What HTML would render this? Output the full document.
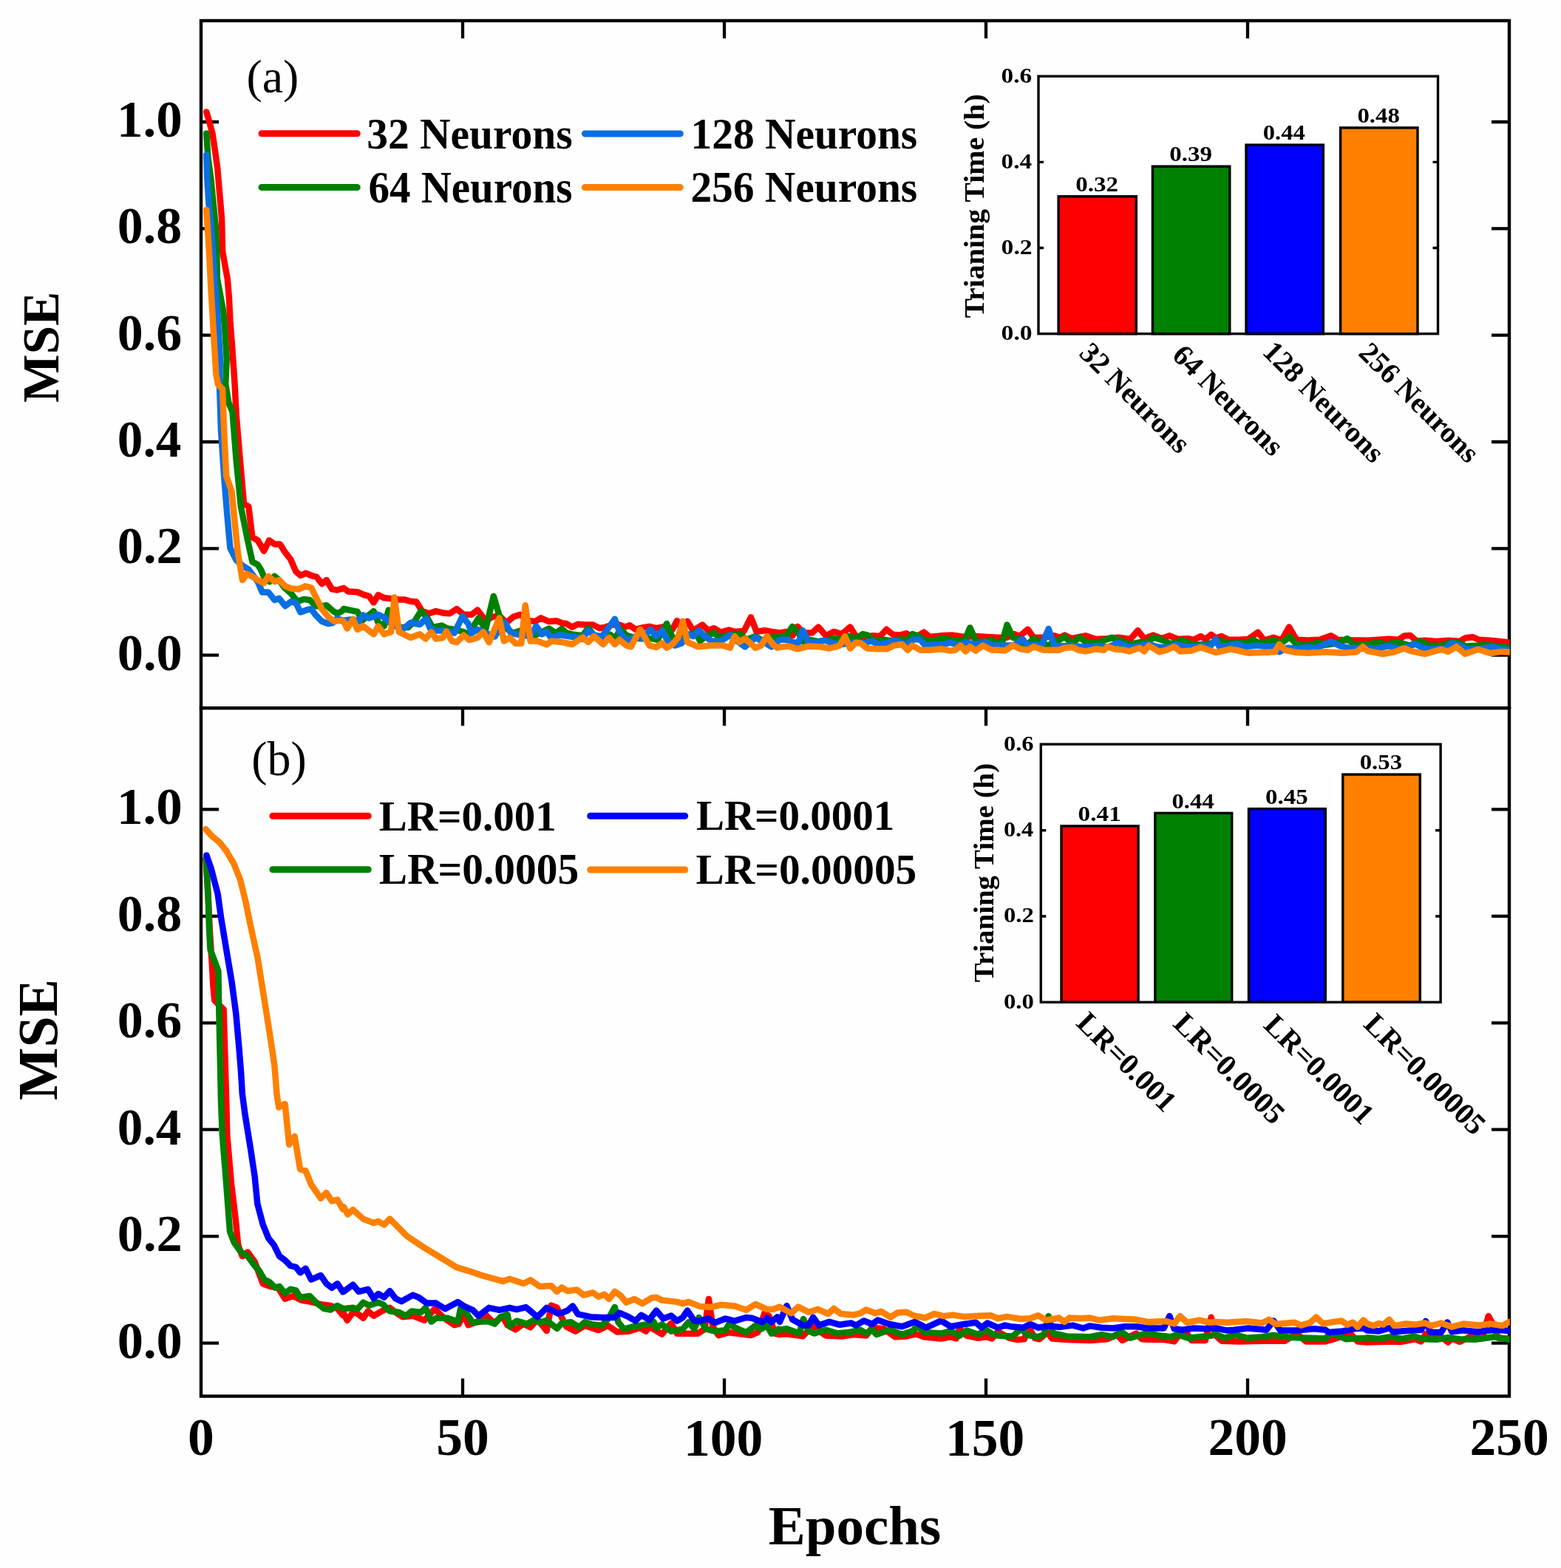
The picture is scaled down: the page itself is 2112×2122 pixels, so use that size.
<!DOCTYPE html><html><head><meta charset="utf-8"><title>MSE vs Epochs</title><style>html,body{margin:0;padding:0;background:#fefefe;}svg{display:block}</style></head><body>
<svg width="2112" height="2122" viewBox="0 0 2112 2122">
<rect x="0" y="0" width="2112" height="2122" fill="#fefefe"/>
<g stroke="#000" stroke-width="4.4" fill="none" stroke-linecap="square">
<rect x="272" y="28" width="1770" height="1861.5"/>
<line x1="272" y1="958.3" x2="2042" y2="958.3"/>
</g>
<path d="M272 886.6H296M2042 886.6H2018M272 1817.6H296M2042 1817.6H2018M272 742.3H296M2042 742.3H2018M272 1673.2H296M2042 1673.2H2018M272 598.0H296M2042 598.0H2018M272 1528.7H296M2042 1528.7H2018M272 453.6H296M2042 453.6H2018M272 1384.3H296M2042 1384.3H2018M272 309.3H296M2042 309.3H2018M272 1239.8H296M2042 1239.8H2018M272 165.0H296M2042 165.0H2018M272 1095.4H296M2042 1095.4H2018M626.0 28V52M626.0 958.3V982.3M626.0 1889.5V1865.5M980.0 28V52M980.0 958.3V982.3M980.0 1889.5V1865.5M1334.0 28V52M1334.0 958.3V982.3M1334.0 1889.5V1865.5M1688.0 28V52M1688.0 958.3V982.3M1688.0 1889.5V1865.5" stroke="#000" stroke-width="4.3" fill="none"/>
<defs><clipPath id="pc"><rect x="250" y="30" width="1792.8" height="1858"/></clipPath></defs>
<g clip-path="url(#pc)"><path d="M279.3 151.4 L283.5 165.9 L287.6 181.4 L290.7 202.1 L294.3 228.0 L296.9 259.0 L300.0 295.3 L301.1 340.4 L307.8 377.6 L309.9 402.5 L311.4 433.5 L314.5 474.9 L317.6 520.0 L319.7 561.4 L324.9 623.5 L330.0 681.5 L336.3 685.6 L341.4 727.0 L348.7 731.2 L357.0 745.7 L364.2 731.2 L371.4 736.4 L378.7 736.4 L385.9 747.7 L393.2 757.0 L400.4 773.6 L406.6 778.8 L413.9 775.7 L421.1 778.8 L428.4 780.9 L435.6 790.2 L441.8 785.0 L449.1 797.4 L456.3 798.5 L463.6 796.4 L465.0 795.9 L471.2 800.6 L483.7 801.3 L493.1 805.2 L499.3 806.8 L505.6 815.4 L511.8 805.2 L519.6 809.1 L527.4 809.9 L539.9 811.5 L547.7 811.5 L555.5 813.8 L563.3 814.6 L571.1 827.1 L580.4 830.2 L589.8 827.1 L599.2 829.4 L608.5 830.2 L617.9 824.0 L627.3 831.8 L638.2 831.8 L646.0 825.5 L656.9 839.6 L666.2 834.9 L675.6 833.3 L685.0 842.7 L694.3 834.9 L703.7 831.8 L714.6 839.6 L724.0 841.1 L731.8 836.4 L742.7 841.1 L753.6 840.3 L760.0 843.2 L766.2 844.0 L774.0 848.6 L781.8 844.7 L791.2 845.5 L802.1 845.5 L811.5 850.2 L819.3 848.6 L828.6 845.5 L838.0 845.5 L845.8 848.6 L852.0 846.3 L859.8 851.8 L869.2 849.4 L878.6 847.9 L887.9 850.2 L895.7 848.6 L902.0 853.3 L909.8 851.8 L916.0 840.1 L922.3 850.2 L930.0 840.8 L937.8 853.3 L950.3 845.5 L958.1 853.3 L965.9 850.2 L975.3 855.7 L986.2 852.5 L994.0 854.9 L1006.5 854.1 L1015.9 835.4 L1023.6 854.9 L1034.6 853.3 L1043.9 854.9 L1055.0 856.4 L1064.4 854.9 L1072.2 860.3 L1079.2 847.9 L1086.2 856.4 L1098.7 856.4 L1107.3 848.6 L1117.4 860.3 L1128.3 854.9 L1139.2 858.0 L1150.2 848.6 L1158.0 861.1 L1167.3 862.7 L1179.8 860.3 L1190.7 861.1 L1199.3 851.8 L1207.9 858.8 L1217.3 859.6 L1226.6 857.2 L1236.0 864.2 L1250.0 855.7 L1257.8 861.9 L1273.4 860.3 L1289.0 859.6 L1304.6 861.9 L1320.2 861.1 L1335.8 861.9 L1350.0 862.7 L1362.5 862.7 L1371.8 858.0 L1379.6 861.1 L1390.6 851.8 L1398.4 862.7 L1412.4 862.7 L1426.4 860.3 L1434.2 862.7 L1440.5 859.6 L1449.8 864.2 L1468.6 860.3 L1482.6 865.0 L1498.2 864.2 L1513.8 862.7 L1529.4 865.0 L1539.5 853.3 L1548.1 864.2 L1560.6 859.6 L1571.5 864.2 L1582.4 860.3 L1593.4 865.0 L1607.4 864.2 L1615.2 865.8 L1624.6 861.1 L1630.8 865.0 L1638.6 858.8 L1645.0 863.5 L1652.8 861.1 L1662.2 865.8 L1676.2 865.8 L1688.7 865.0 L1701.9 855.7 L1710.5 866.6 L1723.0 862.7 L1733.9 866.6 L1744.1 848.6 L1754.2 865.8 L1769.8 866.6 L1785.4 865.8 L1801.0 860.3 L1810.4 865.8 L1824.4 866.6 L1840.0 866.6 L1850.0 866.8 L1865.6 865.8 L1879.1 864.8 L1891.6 865.8 L1899.9 860.6 L1908.2 860.1 L1916.6 867.4 L1929.0 866.8 L1943.6 867.9 L1959.2 866.8 L1974.8 867.9 L1983.1 863.2 L1992.5 862.2 L2000.8 865.8 L2016.4 866.8 L2042.0 869.4" fill="none" stroke="#ff0000" stroke-width="8.5" stroke-linejoin="round" stroke-linecap="round"/>
<path d="M279.3 180.4 L281.4 212.5 L285.5 243.5 L288.6 274.6 L291.7 305.6 L293.3 340.0 L293.8 376.6 L302.1 421.1 L304.2 443.9 L306.7 485.3 L305.2 520.0 L309.3 544.8 L314.5 557.3 L319.7 623.5 L325.9 685.6 L334.2 727.0 L341.4 760.2 L348.7 764.3 L352.8 770.5 L359.0 785.0 L365.2 787.1 L371.4 779.8 L377.6 785.0 L384.9 795.4 L394.2 803.7 L402.5 814.0 L410.8 810.9 L419.1 812.0 L427.4 820.2 L435.6 820.2 L441.8 819.2 L450.1 826.4 L456.3 830.6 L463.6 826.4 L465.0 824.0 L483.7 827.9 L490.0 839.6 L505.6 827.1 L511.8 842.7 L519.6 847.4 L525.8 825.5 L530.0 844.0 L538.3 848.9 L552.4 848.9 L561.7 839.6 L569.5 827.1 L577.3 834.9 L585.1 848.9 L597.6 846.6 L605.4 850.5 L614.8 852.0 L627.3 855.2 L633.5 858.3 L639.7 848.9 L647.5 836.4 L656.9 852.0 L667.8 806.8 L675.6 833.3 L685.0 850.5 L694.3 856.7 L703.7 853.6 L714.6 856.7 L724.0 859.8 L733.3 855.2 L742.7 850.5 L752.0 856.7 L760.0 851.0 L766.2 856.4 L775.6 858.8 L788.1 860.3 L795.9 850.2 L803.7 859.6 L814.6 862.7 L825.5 858.8 L831.8 864.2 L839.6 851.8 L847.4 859.6 L856.7 862.7 L866.1 864.2 L881.7 864.2 L889.5 865.8 L902.0 844.0 L909.8 862.7 L916.0 864.2 L925.4 862.7 L934.7 858.0 L941.0 856.4 L947.2 867.4 L955.0 861.1 L965.9 856.4 L973.7 862.7 L986.2 859.6 L1001.8 858.0 L1009.6 865.8 L1022.1 861.1 L1034.6 868.9 L1043.9 862.7 L1055.0 861.1 L1062.8 861.9 L1072.2 847.9 L1080.0 856.4 L1087.8 868.9 L1095.6 865.8 L1106.5 868.1 L1117.4 866.6 L1128.3 864.2 L1139.2 865.0 L1148.6 861.1 L1158.0 864.2 L1167.3 858.0 L1173.6 859.6 L1182.9 867.4 L1195.4 865.8 L1207.9 867.4 L1220.4 865.0 L1226.6 867.4 L1234.4 858.0 L1243.8 861.1 L1251.6 866.6 L1262.5 867.4 L1276.5 863.5 L1289.0 866.6 L1304.6 868.1 L1312.4 849.4 L1320.2 867.4 L1329.6 868.9 L1342.0 866.6 L1350.0 869.7 L1356.2 868.9 L1362.5 845.5 L1370.3 862.7 L1378.1 865.0 L1384.3 873.6 L1390.6 872.0 L1398.4 864.2 L1409.3 870.5 L1418.6 873.6 L1423.3 870.5 L1431.1 867.4 L1440.5 861.9 L1449.8 870.5 L1460.8 862.7 L1471.7 870.5 L1487.3 868.9 L1504.4 862.7 L1515.4 866.6 L1529.4 872.0 L1543.5 868.9 L1552.8 868.9 L1560.6 862.7 L1571.5 865.8 L1584.0 871.3 L1599.6 866.6 L1615.2 872.8 L1630.8 872.0 L1643.3 869.7 L1645.0 868.9 L1652.8 867.4 L1662.2 870.5 L1679.3 869.7 L1687.1 870.5 L1694.9 865.8 L1704.3 870.5 L1723.0 866.6 L1733.9 870.5 L1744.8 861.9 L1754.2 872.0 L1769.8 872.8 L1785.4 869.7 L1793.2 872.8 L1808.8 870.5 L1822.9 864.2 L1832.2 872.8 L1847.8 872.0 L1850.0 872.0 L1865.6 869.4 L1876.0 872.6 L1886.4 869.4 L1896.8 870.5 L1907.2 873.6 L1921.8 867.4 L1933.2 873.6 L1948.8 874.1 L1964.4 868.9 L1974.8 870.5 L1983.1 874.6 L1995.6 874.1 L2006.0 872.6 L2026.8 874.6 L2042.0 876.2" fill="none" stroke="#008000" stroke-width="8.5" stroke-linejoin="round" stroke-linecap="round"/>
<path d="M279.3 209.4 L280.4 243.5 L282.4 274.6 L285.5 305.6 L288.1 340.0 L290.7 381.8 L294.8 433.5 L297.9 485.3 L296.9 520.0 L299.0 582.1 L303.1 644.2 L307.3 696.0 L311.4 741.5 L319.7 758.1 L328.0 765.3 L336.3 770.5 L342.5 778.8 L348.7 787.1 L354.9 801.6 L363.2 801.6 L371.4 811.9 L377.7 809.9 L385.9 820.2 L394.2 814.0 L400.4 816.1 L406.6 828.5 L414.9 825.4 L421.1 824.3 L427.3 832.6 L435.6 840.9 L443.9 844.0 L450.1 843.0 L456.3 836.8 L463.6 839.9 L465.0 839.6 L477.5 838.0 L485.3 841.1 L491.5 832.5 L499.3 836.4 L511.8 831.8 L521.2 836.4 L527.4 842.7 L535.2 847.4 L546.1 850.5 L555.5 842.7 L568.0 845.0 L576.5 837.2 L582.0 850.5 L589.8 853.6 L600.7 853.6 L614.8 856.7 L625.7 834.1 L633.5 844.2 L638.2 856.7 L646.0 852.0 L656.9 856.7 L669.4 861.4 L675.6 852.0 L683.4 842.7 L691.2 856.7 L699.0 858.3 L708.4 859.8 L717.7 861.4 L725.5 847.4 L733.3 858.3 L739.6 855.2 L745.8 863.0 L755.2 859.8 L760.0 859.6 L769.4 861.1 L780.3 862.7 L788.1 865.0 L795.9 853.3 L803.7 859.6 L814.6 861.1 L824.0 848.6 L831.8 837.7 L838.0 854.9 L844.2 862.7 L852.0 866.6 L859.8 861.1 L869.2 864.2 L880.1 851.8 L887.9 861.1 L895.7 853.3 L903.5 867.4 L912.9 873.6 L922.3 870.5 L930.0 858.0 L937.8 861.1 L945.6 853.3 L953.4 861.1 L962.8 867.4 L975.3 867.4 L987.8 859.6 L997.1 867.4 L1008.0 875.2 L1022.1 862.7 L1033.0 868.9 L1043.9 875.2 L1055.0 865.8 L1064.4 865.8 L1072.2 868.9 L1080.0 870.5 L1086.2 853.3 L1094.0 868.9 L1104.9 868.9 L1115.8 866.6 L1126.8 870.5 L1139.2 872.0 L1148.6 870.5 L1161.1 868.9 L1170.4 870.5 L1178.2 867.4 L1189.2 872.0 L1201.6 869.7 L1211.0 866.6 L1220.4 870.5 L1228.2 872.0 L1236.0 865.0 L1245.3 865.8 L1251.6 873.6 L1264.1 872.0 L1273.4 872.8 L1285.9 869.7 L1295.2 872.8 L1307.7 869.7 L1320.2 872.0 L1332.7 868.9 L1343.6 873.6 L1350.0 873.6 L1362.5 873.6 L1371.8 873.6 L1383.5 865.0 L1390.6 873.6 L1401.5 872.8 L1409.3 873.6 L1418.6 851.0 L1426.4 873.6 L1437.4 874.4 L1449.8 873.6 L1463.9 875.2 L1474.8 875.2 L1487.3 873.6 L1499.8 875.9 L1512.2 869.7 L1521.6 873.6 L1531.0 875.9 L1543.5 873.6 L1552.8 871.3 L1565.3 875.2 L1577.8 876.7 L1591.8 872.0 L1602.7 875.2 L1615.2 875.2 L1627.7 873.6 L1637.0 875.2 L1644.8 865.0 L1649.7 875.2 L1660.6 874.4 L1673.1 871.3 L1685.6 875.2 L1701.2 873.6 L1715.2 875.2 L1723.0 874.4 L1730.8 882.2 L1741.7 876.7 L1754.2 877.5 L1766.7 875.9 L1782.3 876.7 L1801.0 868.1 L1813.5 874.4 L1824.4 876.7 L1843.1 877.5 L1850.0 876.7 L1860.4 878.3 L1879.1 874.1 L1891.6 877.8 L1899.9 877.2 L1914.5 871.5 L1929.0 878.3 L1943.6 878.3 L1954.0 877.8 L1964.4 870.5 L1974.8 873.6 L1985.2 878.8 L2000.8 878.3 L2020.6 875.2 L2032.0 879.3 L2042.0 879.3" fill="none" stroke="#0a6fe3" stroke-width="8.5" stroke-linejoin="round" stroke-linecap="round"/>
<path d="M279.3 283.9 L281.4 316.0 L282.9 340.0 L285.5 392.1 L289.2 454.2 L292.3 506.0 L294.8 520.0 L301.1 526.2 L303.1 582.1 L306.2 644.2 L313.5 664.9 L317.6 706.3 L321.8 747.7 L328.0 785.0 L334.2 776.7 L342.5 780.9 L348.7 785.0 L357.0 789.1 L363.2 779.8 L371.4 787.1 L377.7 785.0 L385.9 793.3 L394.2 796.4 L404.6 797.4 L412.9 793.3 L421.1 795.4 L427.3 807.8 L435.6 824.3 L443.9 834.7 L452.2 840.9 L460.5 839.9 L465.0 841.1 L469.7 850.5 L477.5 838.0 L483.7 852.0 L491.5 847.4 L505.6 858.3 L511.8 847.4 L519.6 858.3 L529.0 855.2 L533.6 808.4 L539.9 855.2 L555.5 863.0 L568.0 858.3 L575.8 864.5 L583.6 855.2 L589.8 864.5 L599.2 863.0 L603.8 854.4 L611.6 867.6 L617.9 869.2 L627.3 859.8 L635.0 866.1 L646.0 863.0 L653.8 855.2 L661.6 869.2 L675.6 836.4 L681.9 867.6 L689.6 863.0 L697.4 870.8 L705.3 870.8 L710.7 819.3 L717.7 867.6 L727.1 867.6 L739.6 872.3 L745.8 867.6 L760.0 868.9 L774.0 872.0 L788.1 862.7 L795.9 868.9 L803.7 861.1 L816.2 872.0 L824.0 862.7 L831.8 872.0 L838.0 865.8 L847.4 873.6 L853.6 875.2 L866.1 851.8 L878.6 873.6 L887.9 875.9 L895.7 870.5 L902.0 876.7 L909.8 872.0 L917.6 862.7 L923.8 840.8 L930.0 868.9 L944.1 875.2 L962.8 873.6 L978.4 873.6 L987.8 876.7 L994.0 861.1 L1000.2 868.9 L1008.0 864.2 L1022.1 876.7 L1029.9 873.6 L1037.7 861.1 L1045.5 872.0 L1051.7 876.7 L1055.0 875.9 L1067.5 874.4 L1078.4 878.3 L1094.0 874.4 L1109.6 875.2 L1122.1 877.5 L1136.1 873.6 L1143.1 861.1 L1150.2 877.5 L1158.0 869.7 L1164.2 870.5 L1173.6 877.5 L1187.6 878.3 L1200.1 878.3 L1209.4 873.6 L1220.4 872.0 L1228.2 879.8 L1234.4 873.6 L1245.3 879.8 L1257.8 879.8 L1273.4 878.3 L1285.9 880.6 L1292.1 879.8 L1299.9 873.6 L1306.2 881.4 L1312.4 875.2 L1320.2 880.6 L1329.6 873.6 L1342.0 879.8 L1350.0 879.8 L1359.4 880.6 L1370.3 873.6 L1381.2 878.3 L1390.6 879.8 L1398.4 875.2 L1412.4 879.8 L1432.7 879.8 L1440.5 876.7 L1451.4 875.9 L1459.2 879.8 L1468.6 881.4 L1482.6 878.3 L1493.5 879.8 L1498.2 875.2 L1507.6 878.3 L1521.6 879.8 L1527.8 881.4 L1541.9 876.7 L1548.1 881.4 L1554.4 873.6 L1568.4 882.2 L1577.8 879.8 L1588.7 875.2 L1596.5 881.4 L1612.1 880.6 L1624.6 875.9 L1635.5 879.8 L1645.0 883.0 L1665.3 878.3 L1688.7 883.7 L1707.4 883.0 L1724.6 882.2 L1730.8 872.0 L1738.6 879.8 L1754.2 883.0 L1769.8 883.7 L1793.2 882.2 L1816.6 883.7 L1835.3 882.2 L1843.9 875.2 L1850.0 880.9 L1870.8 885.0 L1886.4 882.4 L1899.9 877.2 L1908.2 880.9 L1928.0 885.0 L1949.8 878.8 L1959.2 881.9 L1970.6 875.2 L1982.1 885.0 L1999.8 878.8 L2016.4 884.0 L2032.0 881.9 L2042.0 882.4" fill="none" stroke="#ff8000" stroke-width="8.5" stroke-linejoin="round" stroke-linecap="round"/>
<path d="M278.7 1162.0 L281.6 1212.0 L284.0 1262.0 L286.5 1300.0 L288.5 1335.0 L290.3 1354.0 L302.6 1366.0 L304.2 1421.3 L306.2 1490.0 L307.3 1535.9 L312.9 1601.2 L318.5 1647.8 L322.2 1685.0 L327.8 1700.0 L335.2 1694.4 L344.6 1707.4 L355.7 1737.2 L365.1 1740.9 L376.2 1742.8 L385.6 1757.7 L396.7 1754.0 L407.9 1759.6 L419.1 1761.5 L434.0 1765.2 L447.1 1767.0 L456.4 1770.8 L463.9 1780.1 L465.0 1777.6 L469.7 1786.9 L477.5 1776.0 L483.7 1777.6 L491.5 1783.8 L497.8 1774.4 L505.6 1780.7 L516.5 1774.4 L527.4 1769.8 L535.2 1776.0 L544.6 1782.2 L558.6 1780.7 L574.2 1786.9 L588.2 1771.3 L600.7 1783.8 L614.8 1793.2 L621.0 1791.6 L627.3 1777.6 L633.5 1793.2 L646.0 1788.5 L656.9 1779.1 L667.8 1790.0 L680.3 1782.2 L686.5 1793.2 L697.4 1799.4 L708.4 1791.6 L717.7 1796.3 L727.1 1785.4 L739.6 1801.0 L745.8 1766.6 L753.6 1769.8 L760.0 1783.0 L766.2 1795.4 L778.7 1801.7 L791.2 1793.9 L809.9 1800.1 L822.4 1793.9 L834.9 1802.5 L850.5 1801.7 L866.1 1797.0 L873.9 1801.7 L878.6 1795.4 L895.7 1805.6 L908.2 1790.8 L916.0 1804.8 L930.0 1804.8 L944.1 1804.8 L953.4 1798.6 L958.9 1758.0 L964.4 1795.4 L972.2 1807.1 L986.2 1803.2 L998.7 1804.8 L1015.9 1807.1 L1025.2 1803.2 L1034.6 1776.7 L1040.8 1781.4 L1048.6 1804.8 L1055.0 1806.1 L1064.4 1805.3 L1086.2 1808.4 L1100.2 1793.6 L1106.5 1799.8 L1117.4 1807.6 L1140.8 1808.4 L1154.8 1806.1 L1172.0 1807.6 L1179.8 1796.7 L1195.4 1798.3 L1211.0 1809.2 L1226.6 1808.4 L1239.1 1805.3 L1250.0 1809.2 L1273.4 1811.5 L1285.9 1809.2 L1293.7 1811.5 L1298.4 1798.3 L1307.7 1807.6 L1323.3 1810.8 L1334.3 1809.2 L1342.0 1811.5 L1350.0 1802.2 L1365.6 1810.8 L1376.5 1813.1 L1385.9 1812.3 L1392.1 1795.9 L1399.9 1810.8 L1406.2 1812.3 L1417.1 1803.0 L1423.3 1811.5 L1443.6 1813.1 L1474.8 1813.9 L1498.2 1812.3 L1510.7 1806.1 L1518.5 1813.9 L1537.2 1804.5 L1545.0 1812.3 L1560.6 1813.1 L1576.2 1813.1 L1588.7 1815.4 L1594.9 1806.9 L1602.7 1799.8 L1612.1 1813.9 L1630.8 1813.9 L1638.6 1782.7 L1645.0 1807.6 L1652.8 1814.7 L1676.2 1815.4 L1707.4 1814.7 L1738.6 1814.7 L1754.2 1804.5 L1766.7 1815.4 L1793.2 1815.4 L1808.8 1810.8 L1826.0 1803.7 L1836.9 1815.4 L1850.0 1816.5 L1865.6 1816.0 L1881.2 1815.4 L1894.7 1816.0 L1914.5 1812.3 L1922.8 1815.4 L1929.0 1805.0 L1936.3 1807.1 L1948.8 1808.2 L1959.2 1816.5 L1964.4 1811.3 L1974.8 1816.0 L1990.4 1808.2 L2006.0 1808.2 L2013.8 1781.1 L2018.5 1789.4 L2026.8 1810.5 L2042.0 1812.0" fill="none" stroke="#ff0000" stroke-width="8.5" stroke-linejoin="round" stroke-linecap="round"/>
<path d="M278.7 1161.7 L281.6 1212.5 L283.0 1256.0 L284.5 1285.0 L295.4 1314.0 L296.1 1357.4 L297.5 1420.0 L299.0 1490.0 L300.8 1535.9 L305.4 1591.8 L311.0 1666.4 L316.6 1681.3 L325.9 1694.4 L335.2 1700.0 L344.6 1713.0 L350.1 1718.7 L357.6 1731.6 L365.1 1735.4 L372.5 1742.8 L378.1 1740.9 L385.6 1750.3 L393.0 1744.7 L400.5 1746.5 L406.1 1755.9 L419.1 1754.0 L428.4 1763.3 L437.8 1770.8 L447.1 1772.6 L456.4 1767.0 L463.9 1770.8 L465.0 1771.3 L477.5 1769.8 L483.7 1771.3 L491.5 1762.7 L499.3 1766.6 L511.8 1762.7 L518.0 1765.1 L527.4 1774.4 L539.9 1776.0 L549.2 1780.7 L557.0 1774.4 L569.5 1776.0 L575.8 1769.8 L583.6 1788.5 L589.8 1783.8 L605.4 1783.8 L619.5 1788.5 L624.1 1766.6 L630.4 1776.0 L639.7 1790.0 L652.2 1788.5 L661.6 1788.5 L669.4 1791.6 L677.2 1782.2 L686.5 1779.1 L689.6 1794.7 L699.0 1787.7 L713.0 1791.6 L724.0 1785.4 L730.2 1790.0 L739.6 1786.9 L753.6 1797.8 L760.0 1790.8 L772.5 1789.2 L783.4 1796.2 L791.2 1789.2 L800.6 1792.3 L814.6 1793.9 L824.0 1783.0 L831.8 1768.9 L836.4 1789.2 L844.2 1798.6 L856.7 1795.4 L875.4 1792.3 L884.8 1789.2 L887.9 1797.0 L895.7 1792.3 L908.2 1801.7 L923.8 1798.6 L931.6 1789.2 L939.4 1798.6 L945.6 1783.0 L955.0 1798.6 L967.5 1801.7 L981.5 1800.1 L986.2 1792.3 L998.7 1798.6 L1009.6 1803.2 L1022.1 1793.9 L1029.9 1798.6 L1037.7 1793.9 L1043.9 1804.8 L1053.3 1798.6 L1055.0 1799.8 L1064.4 1798.3 L1081.5 1804.5 L1087.0 1785.0 L1094.0 1801.4 L1101.8 1804.5 L1117.4 1799.8 L1133.0 1804.5 L1148.6 1803.0 L1164.2 1799.8 L1172.0 1804.5 L1179.8 1799.8 L1186.0 1806.1 L1203.2 1799.8 L1220.4 1806.1 L1234.4 1801.4 L1241.4 1794.4 L1250.0 1803.0 L1273.4 1804.5 L1285.9 1801.4 L1298.4 1807.6 L1307.7 1800.6 L1323.3 1806.1 L1334.3 1799.8 L1343.6 1806.1 L1350.0 1807.6 L1370.3 1808.4 L1381.2 1798.3 L1390.6 1806.9 L1404.6 1809.2 L1412.4 1806.1 L1418.6 1781.1 L1424.9 1804.5 L1443.6 1808.4 L1474.8 1809.2 L1490.4 1806.1 L1506.0 1809.2 L1516.9 1802.2 L1529.4 1810.8 L1552.8 1803.7 L1568.4 1807.6 L1584.0 1809.2 L1593.4 1806.1 L1607.4 1810.8 L1623.0 1809.2 L1638.6 1807.6 L1645.0 1806.1 L1657.5 1810.8 L1671.5 1806.1 L1687.1 1810.8 L1707.4 1809.2 L1723.0 1806.9 L1746.4 1810.0 L1769.8 1810.8 L1793.2 1811.5 L1801.0 1803.7 L1821.3 1812.3 L1847.8 1810.8 L1850.0 1810.2 L1865.6 1811.8 L1881.2 1809.2 L1896.8 1811.8 L1912.4 1808.7 L1928.0 1812.3 L1943.6 1812.8 L1959.2 1810.2 L1974.8 1812.3 L1995.6 1812.8 L2021.6 1809.2 L2042.0 1812.8" fill="none" stroke="#008000" stroke-width="8.5" stroke-linejoin="round" stroke-linecap="round"/>
<path d="M279.4 1157.4 L285.9 1176.2 L294.6 1209.6 L299.0 1241.4 L306.2 1284.9 L313.5 1328.4 L319.3 1371.9 L323.6 1420.0 L326.0 1450.0 L327.8 1480.0 L331.5 1508.0 L339.0 1554.6 L344.6 1591.8 L348.3 1629.1 L355.7 1657.1 L363.2 1675.7 L370.7 1685.0 L378.1 1700.0 L385.6 1705.5 L393.0 1713.0 L400.5 1714.9 L406.1 1722.3 L413.5 1716.7 L421.0 1731.6 L434.0 1726.0 L441.5 1737.2 L448.9 1742.8 L456.4 1737.2 L463.9 1748.4 L465.0 1747.9 L477.5 1738.6 L485.3 1747.9 L497.8 1744.8 L505.6 1757.3 L511.8 1751.0 L519.6 1755.7 L527.4 1747.1 L535.2 1757.3 L543.0 1761.2 L558.6 1752.6 L566.4 1755.7 L577.3 1763.5 L589.8 1763.5 L602.3 1771.3 L619.5 1762.0 L628.8 1768.2 L639.7 1772.9 L647.5 1780.7 L661.6 1769.8 L675.6 1772.9 L689.6 1769.8 L699.0 1772.1 L711.5 1769.0 L727.1 1782.2 L739.6 1769.8 L755.2 1777.6 L760.0 1776.7 L767.8 1773.6 L774.8 1767.4 L781.8 1778.3 L799.0 1782.2 L814.6 1783.0 L831.8 1783.0 L838.0 1776.7 L850.5 1782.2 L859.8 1787.6 L867.6 1779.8 L878.6 1786.1 L887.9 1773.6 L897.3 1784.5 L908.2 1780.6 L916.0 1787.6 L923.8 1783.0 L930.0 1773.6 L939.4 1787.6 L947.2 1787.6 L958.1 1784.5 L967.5 1790.0 L981.5 1784.5 L994.0 1787.6 L1009.6 1783.0 L1017.4 1783.7 L1031.5 1789.2 L1037.7 1783.7 L1043.9 1789.2 L1051.7 1782.2 L1055.0 1788.9 L1064.4 1767.1 L1072.2 1785.8 L1086.2 1793.6 L1094.0 1793.6 L1100.2 1782.7 L1108.0 1793.6 L1122.1 1788.9 L1136.1 1792.8 L1151.7 1790.5 L1158.0 1793.6 L1168.9 1787.4 L1179.8 1792.0 L1187.6 1786.6 L1203.2 1792.0 L1220.4 1795.2 L1237.5 1788.9 L1253.1 1796.7 L1273.4 1787.4 L1285.9 1795.2 L1304.6 1792.0 L1320.2 1789.7 L1328.0 1796.7 L1335.8 1790.5 L1350.0 1796.7 L1359.4 1793.6 L1367.2 1795.2 L1384.3 1796.7 L1393.7 1792.0 L1404.6 1796.7 L1418.6 1794.4 L1434.2 1795.9 L1451.4 1793.6 L1465.4 1797.5 L1474.8 1794.4 L1490.4 1796.7 L1506.0 1797.5 L1521.6 1795.2 L1537.2 1795.2 L1552.8 1797.5 L1574.6 1797.5 L1582.4 1781.1 L1588.7 1798.3 L1599.6 1799.8 L1615.2 1797.5 L1630.8 1798.3 L1645.0 1797.5 L1660.6 1800.6 L1670.0 1799.8 L1688.7 1797.5 L1713.6 1799.8 L1723.0 1787.4 L1732.4 1800.6 L1754.2 1800.6 L1777.6 1798.3 L1793.2 1799.8 L1797.9 1803.0 L1816.6 1801.4 L1832.2 1798.3 L1844.7 1797.5 L1850.0 1800.4 L1865.6 1801.4 L1880.2 1797.2 L1885.4 1802.4 L1902.0 1800.9 L1922.8 1799.8 L1929.0 1787.9 L1935.3 1803.0 L1949.8 1803.0 L1958.2 1789.4 L1964.4 1802.4 L1980.0 1800.4 L2000.8 1802.4 L2021.6 1799.8 L2042.0 1800.9" fill="none" stroke="#0000ff" stroke-width="8.5" stroke-linejoin="round" stroke-linecap="round"/>
<path d="M278.3 1122.1 L286.6 1131.4 L296.9 1139.7 L306.2 1151.6 L316.4 1169.0 L325.1 1190.7 L332.3 1219.7 L338.1 1248.7 L348.7 1297.0 L357.0 1348.8 L365.2 1400.6 L371.4 1441.9 L374.4 1480.0 L377.2 1498.6 L385.6 1494.0 L391.2 1549.0 L398.6 1537.8 L406.1 1582.5 L413.5 1584.4 L421.0 1603.0 L434.0 1621.7 L441.5 1614.2 L448.9 1625.4 L456.4 1623.5 L463.9 1636.6 L465.0 1633.3 L470.5 1643.4 L477.5 1637.2 L491.5 1649.6 L505.6 1655.1 L511.8 1652.8 L519.6 1657.4 L527.4 1649.6 L550.8 1673.0 L574.2 1688.6 L589.8 1698.0 L617.9 1715.2 L633.5 1719.8 L652.2 1726.1 L680.3 1733.9 L689.6 1730.8 L708.4 1737.0 L717.7 1732.3 L730.2 1740.9 L745.8 1740.1 L753.6 1747.9 L760.0 1742.4 L767.8 1747.1 L780.3 1745.5 L789.6 1752.5 L802.1 1749.4 L809.9 1754.9 L817.7 1751.8 L824.0 1758.0 L831.8 1747.9 L839.6 1753.3 L847.4 1762.7 L858.3 1758.0 L869.2 1764.2 L881.7 1756.4 L887.9 1755.7 L895.7 1759.6 L916.0 1761.9 L923.8 1764.2 L931.6 1761.9 L947.2 1768.1 L962.8 1768.9 L975.3 1765.8 L994.0 1767.4 L1009.6 1772.8 L1022.1 1765.0 L1037.7 1772.0 L1045.5 1772.0 L1055.0 1768.6 L1070.6 1777.2 L1080.0 1768.6 L1094.0 1775.7 L1106.5 1771.8 L1120.5 1778.0 L1128.3 1771.0 L1137.7 1778.0 L1154.8 1779.6 L1164.2 1777.2 L1172.0 1772.5 L1184.5 1777.2 L1192.3 1774.9 L1204.8 1782.7 L1214.1 1776.4 L1226.6 1775.7 L1236.0 1780.3 L1251.6 1783.5 L1264.1 1778.0 L1276.5 1781.1 L1289.0 1779.6 L1304.6 1781.9 L1320.2 1781.1 L1340.5 1780.3 L1350.0 1784.2 L1362.5 1781.9 L1381.2 1785.0 L1393.7 1784.2 L1404.6 1780.3 L1415.5 1786.6 L1432.7 1783.5 L1440.5 1788.9 L1446.7 1783.5 L1462.3 1784.2 L1474.8 1783.5 L1487.3 1786.6 L1506.0 1784.2 L1521.6 1785.0 L1537.2 1785.8 L1552.8 1788.9 L1577.8 1788.1 L1588.7 1791.3 L1596.5 1781.1 L1605.9 1789.7 L1623.0 1786.6 L1635.5 1789.7 L1645.0 1788.9 L1660.6 1789.7 L1687.1 1788.1 L1707.4 1790.5 L1716.8 1785.8 L1726.1 1792.0 L1751.1 1789.7 L1760.4 1793.6 L1772.9 1789.7 L1780.7 1782.7 L1790.1 1791.3 L1815.0 1787.4 L1822.8 1792.8 L1830.6 1789.7 L1836.9 1795.9 L1844.7 1786.6 L1850.0 1791.5 L1858.3 1794.1 L1865.6 1791.0 L1871.8 1792.6 L1879.6 1785.8 L1886.4 1794.1 L1902.0 1791.5 L1914.5 1792.6 L1928.0 1790.5 L1936.3 1794.1 L1949.8 1790.5 L1964.4 1795.7 L1980.0 1791.5 L2000.8 1793.6 L2016.4 1791.5 L2033.0 1794.1 L2042.0 1788.9" fill="none" stroke="#ff8000" stroke-width="8.5" stroke-linejoin="round" stroke-linecap="round"/></g>
<line x1="354" y1="180.7" x2="483.2" y2="180.7" stroke="#ff0000" stroke-width="9" stroke-linecap="round"/>
<line x1="354" y1="253.5" x2="483.2" y2="253.5" stroke="#008000" stroke-width="9" stroke-linecap="round"/>
<line x1="791.3" y1="180.9" x2="920.3" y2="180.9" stroke="#0a6fe3" stroke-width="9" stroke-linecap="round"/>
<line x1="791.3" y1="253.6" x2="920.3" y2="253.6" stroke="#ff8000" stroke-width="9" stroke-linecap="round"/>
<line x1="368.9" y1="1104.3" x2="498.2" y2="1104.3" stroke="#ff0000" stroke-width="9" stroke-linecap="round"/>
<line x1="368.9" y1="1176.7" x2="498.2" y2="1176.7" stroke="#008000" stroke-width="9" stroke-linecap="round"/>
<line x1="798.7" y1="1104.2" x2="926.7" y2="1104.2" stroke="#0000ff" stroke-width="9" stroke-linecap="round"/>
<line x1="798.7" y1="1177.0" x2="926.7" y2="1177.0" stroke="#ff8000" stroke-width="9" stroke-linecap="round"/>
<rect x="1405" y="103.2" width="540.5" height="348.5" fill="#ffffff" stroke="none"/>
<rect x="1432.1" y="265.8" width="105.2" height="185.9" fill="#ff0000" stroke="#000" stroke-width="3.4"/>
<rect x="1559.4" y="225.2" width="104.4" height="226.5" fill="#008000" stroke="#000" stroke-width="3.4"/>
<rect x="1686.0" y="196.1" width="104.4" height="255.6" fill="#0000ff" stroke="#000" stroke-width="3.4"/>
<rect x="1813.6" y="172.9" width="104.4" height="278.8" fill="#ff8000" stroke="#000" stroke-width="3.4"/>
<rect x="1405" y="103.2" width="540.5" height="348.5" fill="none" stroke="#000" stroke-width="3.4"/>
<path d="M1405 335.5h7M1945.5 335.5h-7M1405 219.4h7M1945.5 219.4h-7" stroke="#000" stroke-width="3.4"/>
<rect x="1408.3" y="1007.2" width="540.8" height="349.0999999999999" fill="#ffffff" stroke="none"/>
<rect x="1436.0" y="1117.9" width="104.1" height="238.4" fill="#ff0000" stroke="#000" stroke-width="3.4"/>
<rect x="1562.9" y="1100.4" width="103.8" height="255.9" fill="#008000" stroke="#000" stroke-width="3.4"/>
<rect x="1689.5" y="1094.6" width="103.8" height="261.7" fill="#0000ff" stroke="#000" stroke-width="3.4"/>
<rect x="1816.8" y="1048.1" width="104.5" height="308.2" fill="#ff8000" stroke="#000" stroke-width="3.4"/>
<rect x="1408.3" y="1007.2" width="540.8" height="349.0999999999999" fill="none" stroke="#000" stroke-width="3.4"/>
<path d="M1408.3 1240.0h7M1949.1 1240.0h-7M1408.3 1123.7h7M1949.1 1123.7h-7" stroke="#000" stroke-width="3.4"/>
<text transform="matrix(0.6379 0 0 0.6444 333.45 125.47)" font-family="Liberation Serif, Times New Roman, serif" font-weight="normal" font-size="100" fill="#000">(a)</text>
<text transform="matrix(0.5745 0 0 0.5940 496.30 200.81)" font-family="Liberation Serif, Times New Roman, serif" font-weight="bold" font-size="100" fill="#000">32 Neurons</text>
<text transform="matrix(0.5701 0 0 0.6060 498.39 273.59)" font-family="Liberation Serif, Times New Roman, serif" font-weight="bold" font-size="100" fill="#000">64 Neurons</text>
<text transform="matrix(0.5739 0 0 0.5868 934.61 200.73)" font-family="Liberation Serif, Times New Roman, serif" font-weight="bold" font-size="100" fill="#000">128 Neurons</text>
<text transform="matrix(0.5742 0 0 0.5970 934.40 273.31)" font-family="Liberation Serif, Times New Roman, serif" font-weight="bold" font-size="100" fill="#000">256 Neurons</text>
<text transform="translate(79.01 544.99) rotate(-90) scale(0.6938 0.6925)" font-family="Liberation Serif, Times New Roman, serif" font-weight="bold" font-size="100" fill="#000">MSE</text>
<text transform="matrix(0.6389 0 0 0.6456 340.34 1049.34)" font-family="Liberation Serif, Times New Roman, serif" font-weight="normal" font-size="100" fill="#000">(b)</text>
<text transform="matrix(0.5700 0 0 0.5662 512.86 1123.67)" font-family="Liberation Serif, Times New Roman, serif" font-weight="bold" font-size="100" fill="#000">LR=0.001</text>
<text transform="matrix(0.5742 0 0 0.5866 512.85 1196.03)" font-family="Liberation Serif, Times New Roman, serif" font-weight="bold" font-size="100" fill="#000">LR=0.0005</text>
<text transform="matrix(0.5696 0 0 0.5618 941.96 1123.38)" font-family="Liberation Serif, Times New Roman, serif" font-weight="bold" font-size="100" fill="#000">LR=0.0001</text>
<text transform="matrix(0.5736 0 0 0.5776 941.55 1195.54)" font-family="Liberation Serif, Times New Roman, serif" font-weight="bold" font-size="100" fill="#000">LR=0.00005</text>
<text transform="translate(77.28 1489.01) rotate(-90) scale(0.7574 0.7582)" font-family="Liberation Serif, Times New Roman, serif" font-weight="bold" font-size="100" fill="#000">MSE</text>
<text transform="matrix(0.7043 0 0 0.6985 158.78 906.50)" font-family="Liberation Serif, Times New Roman, serif" font-weight="bold" font-size="100" fill="#000">0.0</text>
<text transform="matrix(0.7043 0 0 0.6985 158.78 1837.50)" font-family="Liberation Serif, Times New Roman, serif" font-weight="bold" font-size="100" fill="#000">0.0</text>
<text transform="matrix(0.7043 0 0 0.6985 158.78 762.18)" font-family="Liberation Serif, Times New Roman, serif" font-weight="bold" font-size="100" fill="#000">0.2</text>
<text transform="matrix(0.7043 0 0 0.6985 158.78 1693.06)" font-family="Liberation Serif, Times New Roman, serif" font-weight="bold" font-size="100" fill="#000">0.2</text>
<text transform="matrix(0.6924 0 0 0.6985 158.83 617.86)" font-family="Liberation Serif, Times New Roman, serif" font-weight="bold" font-size="100" fill="#000">0.4</text>
<text transform="matrix(0.6924 0 0 0.6985 158.83 1548.62)" font-family="Liberation Serif, Times New Roman, serif" font-weight="bold" font-size="100" fill="#000">0.4</text>
<text transform="matrix(0.6983 0 0 0.6985 158.81 473.54)" font-family="Liberation Serif, Times New Roman, serif" font-weight="bold" font-size="100" fill="#000">0.6</text>
<text transform="matrix(0.6983 0 0 0.6985 158.81 1404.18)" font-family="Liberation Serif, Times New Roman, serif" font-weight="bold" font-size="100" fill="#000">0.6</text>
<text transform="matrix(0.6983 0 0 0.6985 158.81 329.22)" font-family="Liberation Serif, Times New Roman, serif" font-weight="bold" font-size="100" fill="#000">0.8</text>
<text transform="matrix(0.6983 0 0 0.6985 158.81 1259.74)" font-family="Liberation Serif, Times New Roman, serif" font-weight="bold" font-size="100" fill="#000">0.8</text>
<text transform="matrix(0.7106 0 0 0.6882 158.02 184.92)" font-family="Liberation Serif, Times New Roman, serif" font-weight="bold" font-size="100" fill="#000">1.0</text>
<text transform="matrix(0.7106 0 0 0.6882 158.02 1115.32)" font-family="Liberation Serif, Times New Roman, serif" font-weight="bold" font-size="100" fill="#000">1.0</text>
<text transform="matrix(0.7150 0 0 0.7150 254.12 1968.97)" font-family="Liberation Serif, Times New Roman, serif" font-weight="bold" font-size="100" fill="#000">0</text>
<text transform="matrix(0.7150 0 0 0.7150 590.25 1968.97)" font-family="Liberation Serif, Times New Roman, serif" font-weight="bold" font-size="100" fill="#000">50</text>
<text transform="matrix(0.7150 0 0 0.7150 924.95 1969.69)" font-family="Liberation Serif, Times New Roman, serif" font-weight="bold" font-size="100" fill="#000">100</text>
<text transform="matrix(0.7150 0 0 0.7150 1278.94 1969.69)" font-family="Liberation Serif, Times New Roman, serif" font-weight="bold" font-size="100" fill="#000">150</text>
<text transform="matrix(0.7150 0 0 0.7150 1634.38 1968.97)" font-family="Liberation Serif, Times New Roman, serif" font-weight="bold" font-size="100" fill="#000">200</text>
<text transform="matrix(0.7150 0 0 0.7150 1988.38 1968.97)" font-family="Liberation Serif, Times New Roman, serif" font-weight="bold" font-size="100" fill="#000">250</text>
<text transform="matrix(0.7498 0 0 0.7333 1039.80 2090.10)" font-family="Liberation Serif, Times New Roman, serif" font-weight="bold" font-size="100" fill="#000">Epochs</text>
<text transform="translate(1330.60 430.50) rotate(-90) scale(0.3985 0.3856)" font-family="Liberation Serif, Times New Roman, serif" font-weight="bold" font-size="100" fill="#000">Trianing Time (h)</text>
<text transform="translate(1344.37 1329.18) rotate(-90) scale(0.3895 0.3778)" font-family="Liberation Serif, Times New Roman, serif" font-weight="bold" font-size="100" fill="#000">Trianing Time (h)</text>
<text transform="matrix(0.3368 0 0 0.2970 1354.55 460.06)" font-family="Liberation Serif, Times New Roman, serif" font-weight="bold" font-size="100" fill="#000">0.0</text>
<text transform="matrix(0.3282 0 0 0.2970 1357.89 1364.66)" font-family="Liberation Serif, Times New Roman, serif" font-weight="bold" font-size="100" fill="#000">0.0</text>
<text transform="matrix(0.3368 0 0 0.2970 1354.55 343.90)" font-family="Liberation Serif, Times New Roman, serif" font-weight="bold" font-size="100" fill="#000">0.2</text>
<text transform="matrix(0.3282 0 0 0.2970 1357.89 1248.36)" font-family="Liberation Serif, Times New Roman, serif" font-weight="bold" font-size="100" fill="#000">0.2</text>
<text transform="matrix(0.3311 0 0 0.2970 1354.58 227.74)" font-family="Liberation Serif, Times New Roman, serif" font-weight="bold" font-size="100" fill="#000">0.4</text>
<text transform="matrix(0.3227 0 0 0.2970 1357.91 1132.06)" font-family="Liberation Serif, Times New Roman, serif" font-weight="bold" font-size="100" fill="#000">0.4</text>
<text transform="matrix(0.3339 0 0 0.2970 1354.56 111.58)" font-family="Liberation Serif, Times New Roman, serif" font-weight="bold" font-size="100" fill="#000">0.6</text>
<text transform="matrix(0.3254 0 0 0.2970 1357.90 1015.76)" font-family="Liberation Serif, Times New Roman, serif" font-weight="bold" font-size="100" fill="#000">0.6</text>
<text transform="matrix(0.3305 0 0 0.2970 1455.28 258.95)" font-family="Liberation Serif, Times New Roman, serif" font-weight="bold" font-size="100" fill="#000">0.32</text>
<text transform="matrix(0.3305 0 0 0.2970 1582.18 218.29)" font-family="Liberation Serif, Times New Roman, serif" font-weight="bold" font-size="100" fill="#000">0.39</text>
<text transform="matrix(0.3266 0 0 0.2970 1708.79 189.25)" font-family="Liberation Serif, Times New Roman, serif" font-weight="bold" font-size="100" fill="#000">0.44</text>
<text transform="matrix(0.3286 0 0 0.2970 1836.39 166.02)" font-family="Liberation Serif, Times New Roman, serif" font-weight="bold" font-size="100" fill="#000">0.48</text>
<text transform="matrix(0.3325 0 0 0.2926 1458.62 1111.00)" font-family="Liberation Serif, Times New Roman, serif" font-weight="bold" font-size="100" fill="#000">0.41</text>
<text transform="matrix(0.3266 0 0 0.2970 1585.39 1093.55)" font-family="Liberation Serif, Times New Roman, serif" font-weight="bold" font-size="100" fill="#000">0.44</text>
<text transform="matrix(0.3305 0 0 0.2970 1711.98 1087.73)" font-family="Liberation Serif, Times New Roman, serif" font-weight="bold" font-size="100" fill="#000">0.45</text>
<text transform="matrix(0.3286 0 0 0.2970 1839.64 1041.21)" font-family="Liberation Serif, Times New Roman, serif" font-weight="bold" font-size="100" fill="#000">0.53</text>
<text transform="translate(1458.50 479.69) rotate(45) scale(0.3973)" font-family="Liberation Serif, Times New Roman, serif" font-weight="bold" font-size="100" fill="#000">32 Neurons</text>
<text transform="translate(1584.20 482.65) rotate(45) scale(0.3987)" font-family="Liberation Serif, Times New Roman, serif" font-weight="bold" font-size="100" fill="#000">64 Neurons</text>
<text transform="translate(1706.41 477.76) rotate(45) scale(0.3988)" font-family="Liberation Serif, Times New Roman, serif" font-weight="bold" font-size="100" fill="#000">128 Neurons</text>
<text transform="translate(1836.50 479.40) rotate(45) scale(0.3949)" font-family="Liberation Serif, Times New Roman, serif" font-weight="bold" font-size="100" fill="#000">256 Neurons</text>
<text transform="translate(1454.54 1386.29) rotate(45) scale(0.4057)" font-family="Liberation Serif, Times New Roman, serif" font-weight="bold" font-size="100" fill="#000">LR=0.001</text>
<text transform="translate(1585.58 1387.33) rotate(45) scale(0.4095)" font-family="Liberation Serif, Times New Roman, serif" font-weight="bold" font-size="100" fill="#000">LR=0.0005</text>
<text transform="translate(1707.95 1389.25) rotate(45) scale(0.4046)" font-family="Liberation Serif, Times New Roman, serif" font-weight="bold" font-size="100" fill="#000">LR=0.0001</text>
<text transform="translate(1843.26 1387.91) rotate(45) scale(0.4083)" font-family="Liberation Serif, Times New Roman, serif" font-weight="bold" font-size="100" fill="#000">LR=0.00005</text>
</svg></body></html>
